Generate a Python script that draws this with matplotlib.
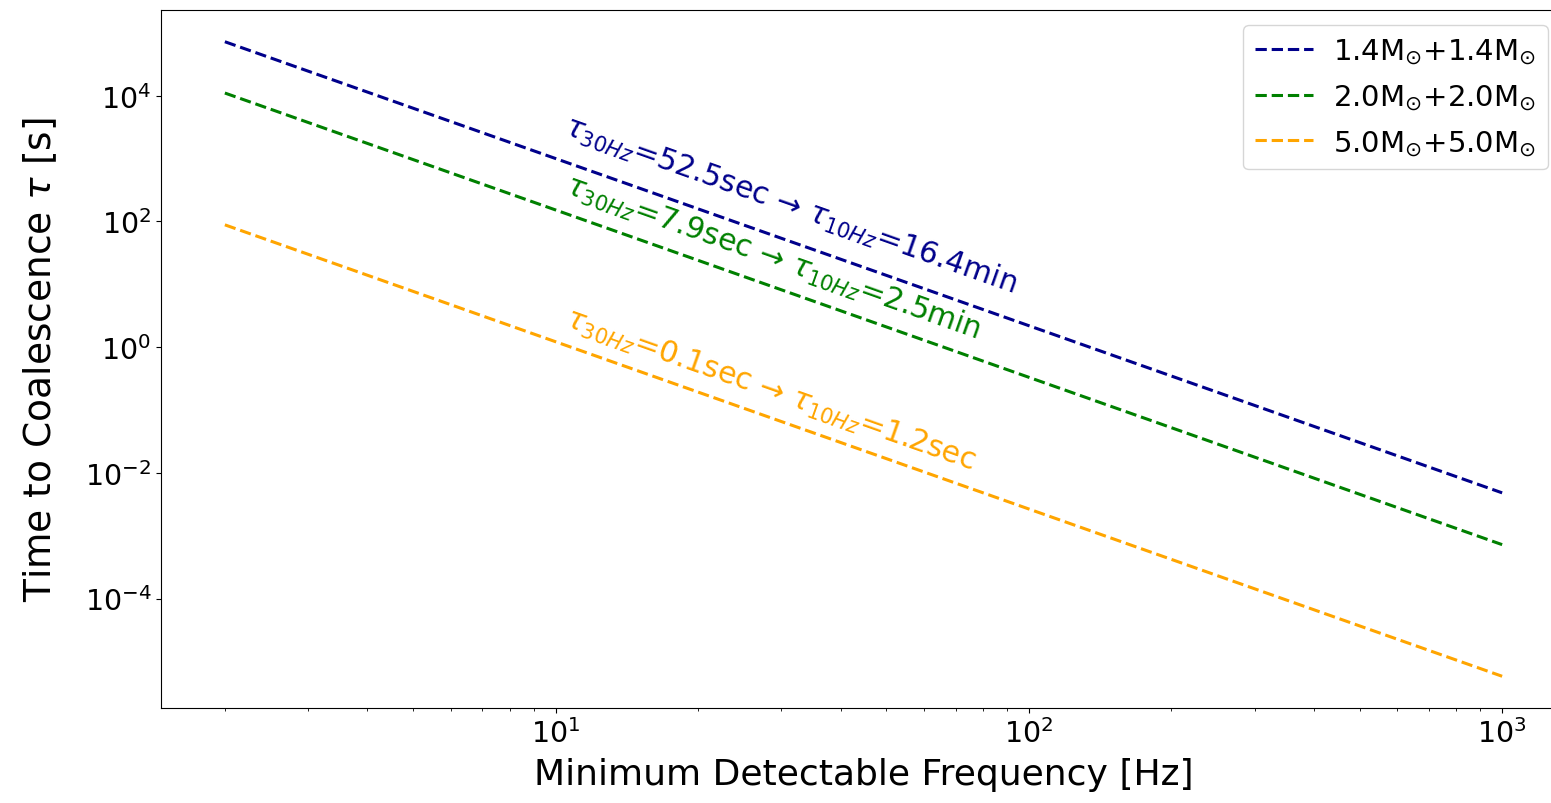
"""Time to coalescence vs. minimum detectable frequency for three equal-mass binaries."""

import matplotlib

matplotlib.use("Agg")
import matplotlib.pyplot as plt  # noqa: E402
from matplotlib.ticker import NullLocator  # noqa: E402

# frequency range of the curves [Hz] and the time to coalescence at both ends [s]
freq_hz = [2.0, 1000.0]
tau_14 = [7.2e4, 4.8e-3]
tau_20 = [1.1e4, 7.2e-4]
tau_50 = [88.0, 5.8e-6]

series_labels = [
    r"1.4M$_{\odot}$+1.4M$_{\odot}$",
    r"2.0M$_{\odot}$+2.0M$_{\odot}$",
    r"5.0M$_{\odot}$+5.0M$_{\odot}$",
]
notes = [
    r"$\tau_{30Hz}$=52.5sec → $\tau_{10Hz}$=16.4min",
    r"$\tau_{30Hz}$=7.9sec → $\tau_{10Hz}$=2.5min",
    r"$\tau_{30Hz}$=0.1sec → $\tau_{10Hz}$=1.2sec",
]
# where each note starts (data coords)
note_x = [10.35, 10.4, 10.4]
note_y = [2500.0, 290.0, 2.2]

COLORS = ["darkblue", "green", "orange"]


def main() -> int:
    W, H = 1551, 804
    fig = plt.figure(figsize=(W / 100, H / 100), dpi=100)
    # axes box runs a little past the right edge of the picture, as in the original
    ax = fig.add_axes([161 / W, 1 - 709 / H, 1405 / W, 698 / H])

    for tau, color, label in zip((tau_14, tau_20, tau_50), COLORS, series_labels):
        ax.plot(freq_hz, tau, linestyle="--", color=color, lw=2.2, label=label)

    ax.set_xscale("log")
    ax.set_yscale("log")
    ax.set_yticks([1e-4, 1e-2, 1e0, 1e2, 1e4])
    ax.yaxis.set_minor_locator(NullLocator())
    ax.tick_params(labelsize=20.5)

    for x, y, text, color in zip(note_x, note_y, notes, COLORS):
        ax.text(x, y, text, color=color, fontsize=21.5, rotation=-19.5,
                rotation_mode="anchor", ha="left", va="baseline")

    ax.set_xlabel("Minimum Detectable Frequency [Hz]", fontsize=26, labelpad=7)
    ax.set_ylabel(r"Time to Coalescence $\tau$ [s]", fontsize=27, labelpad=18)

    ax.legend(loc="upper right", bbox_to_anchor=(1548 / W, 1 - 26 / H),
              bbox_transform=fig.transFigure, borderaxespad=0, fontsize=21,
              labelspacing=0.55, handlelength=2.0, handletextpad=0.7)

    fig.savefig("out.png", dpi=100)
    plt.close(fig)
    return 0


if __name__ == "__main__":
    raise SystemExit(main())
